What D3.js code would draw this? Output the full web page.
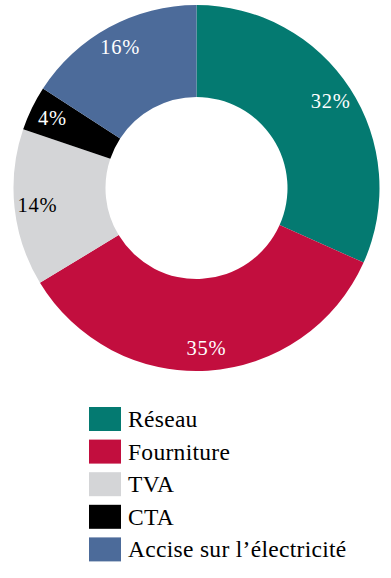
<!DOCTYPE html>
<html><head><meta charset="utf-8">
<script src="https://cdn.jsdelivr.net/npm/d3@7"></script>
<style>html,body{margin:0;padding:0;background:#fff;}svg{display:block;}</style>
</head><body>
<script>
const categories = ["Réseau", "Fourniture", "TVA", "CTA", "Accise sur l’électricité"];
const values = [32, 35, 14, 4, 16];
const labels = ["32%", "35%", "14%", "4%", "16%"];
const colors = ["#047a71", "#c20e3e", "#d4d5d7", "#000000", "#4c6b9a"];
const labelColors = ["#fff", "#fff", "#000", "#fff", "#fff"];

const W = 391, H = 578;
const cx = 196.5, cy = 188, rOuter = 183, rInner = 91, rLabel = 160;

const svg = d3.select("body").append("svg").attr("width", W).attr("height", H);
const g = svg.append("g").attr("transform", `translate(${cx},${cy})`);

const pie = d3.pie().sort(null).value(d => d)(values);
const arc = d3.arc().innerRadius(rInner).outerRadius(rOuter);
const labelArc = d3.arc().innerRadius(rLabel).outerRadius(rLabel);

g.selectAll("path.slice").data(pie).join("path")
  .attr("class", "slice")
  .attr("d", arc)
  .attr("fill", (d, i) => colors[i]);

g.selectAll("text.lbl").data(pie).join("text")
  .attr("class", "lbl")
  .attr("transform", d => `translate(${labelArc.centroid(d)})`)
  .attr("text-anchor", "middle")
  .attr("dominant-baseline", "central")
  .attr("font-family", "'Liberation Serif', serif")
  .attr("font-size", 20.5)
  .attr("letter-spacing", 0.8)
  .attr("fill", (d, i) => labelColors[i])
  .text((d, i) => labels[i]);

const legY = d3.scaleBand().domain(d3.range(categories.length)).range([402, 565]).paddingInner(0);
const leg = svg.append("g");
const items = leg.selectAll("g").data(categories).join("g")
  .attr("transform", (d, i) => `translate(0,${legY(i)})`);
items.append("rect").attr("x", 89).attr("y", 5).attr("width", 32).attr("height", 24)
  .attr("fill", (d, i) => colors[i]);
items.append("text").attr("x", 128).attr("y", 25)
  .attr("font-family", "'Liberation Serif', serif")
  .attr("font-size", 23.5)
  .attr("letter-spacing", 0.3)
  .attr("fill", "#000")
  .text(d => d);
</script>
</body></html>
